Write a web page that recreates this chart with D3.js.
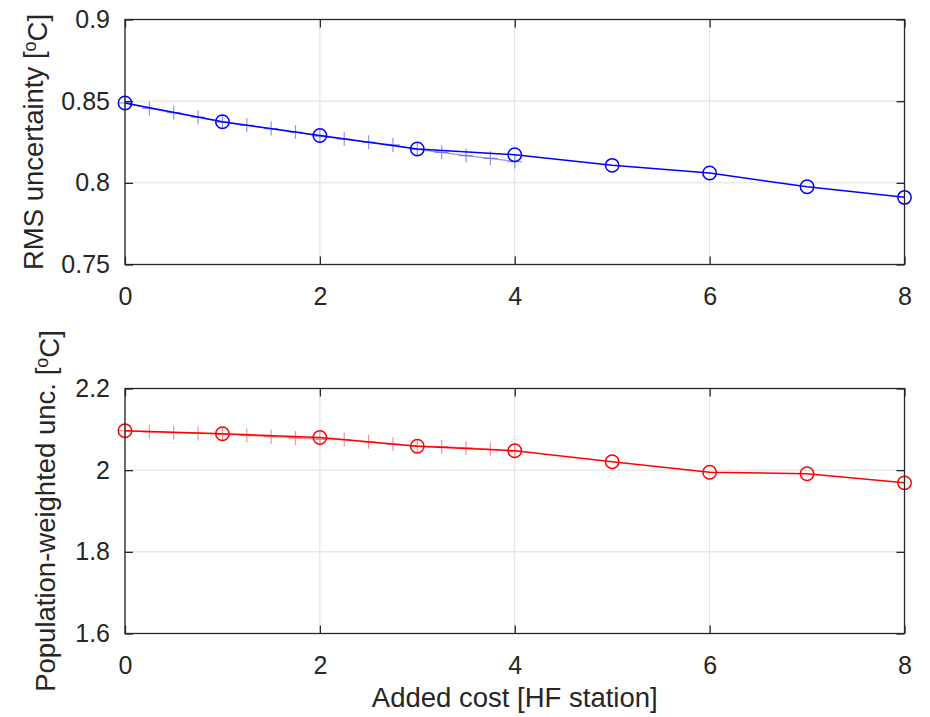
<!DOCTYPE html>
<html>
<head>
<meta charset="utf-8">
<script src="https://cdn.jsdelivr.net/npm/d3@7"></script>
<style>
  body { margin: 0; background: #fff; }
  svg { display: block; font-family: "Liberation Sans", Arial, sans-serif; }
</style>
</head>
<body>
<svg width="930" height="717"></svg>
<script>
// x values of the main (circle) series and of the fine (plus) series
const costs = [0, 1, 2, 3, 4, 5, 6, 7, 8]
const fineCosts = [0, 0.25, 0.5, 0.75, 1, 1.25, 1.5, 1.75, 2, 2.25, 2.5, 2.75, 3, 3.25, 3.5, 3.75, 4]

// top panel: RMS uncertainty
const rmsMain = [0.8489, 0.8374, 0.8290, 0.8207, 0.8172, 0.8107, 0.8060, 0.7976, 0.7911]
const rmsFine = [0.8489, 0.8455, 0.8430, 0.8402, 0.8372, 0.8352, 0.8332, 0.8311, 0.8286,
  0.8268, 0.8249, 0.8232, 0.8205, 0.8187, 0.8167, 0.8150, 0.8130]

// bottom panel: population-weighted uncertainty
const popMain = [2.0965, 2.0893, 2.0800, 2.0584, 2.0477, 2.0207, 1.9950, 1.9914, 1.9690]
const popFine = [2.0965, 2.0940, 2.0920, 2.0900, 2.0880, 2.0850, 2.0820, 2.0790, 2.0762,
  2.0750, 2.0695, 2.0640, 2.0590, 2.0575, 2.0545, 2.0510, 2.0460]

const xTicks = [0, 2, 4, 6, 8]
const rmsTicks = [0.75, 0.8, 0.85, 0.9]
const popTicks = [1.6, 1.8, 2, 2.2]

const svg = d3.select('svg')
const axisColor = '#262626'
const left = 125
const right = 904.5

const x = d3.scaleLinear().domain([0, 8]).range([left, right])

const drawPanel = ({ top, bottom, yDomain, yTicks, main, fine, color, light, label, labelX }) => {
  const y = d3.scaleLinear().domain(yDomain).range([bottom, top])
  const g = svg.append('g')

  // grid lines
  g.append('g')
    .selectAll('line.gx')
    .data(xTicks)
    .join('line')
    .attr('x1', d => x(d)).attr('x2', d => x(d))
    .attr('y1', top).attr('y2', bottom)
    .attr('stroke', '#dfdfdf').attr('stroke-width', 1)
  g.append('g')
    .selectAll('line.gy')
    .data(yTicks)
    .join('line')
    .attr('x1', left).attr('x2', right)
    .attr('y1', d => y(d)).attr('y2', d => y(d))
    .attr('stroke', '#dfdfdf').attr('stroke-width', 1)

  // fine series (light, plus markers)
  const line = d3.line().x(d => x(d[0])).y(d => y(d[1]))
  const fineData = fineCosts.map((c, i) => [c, fine[i]])
  g.append('path')
    .attr('d', line(fineData))
    .attr('fill', 'none')
    .attr('stroke', light)
    .attr('stroke-width', 1.2)
  g.append('g')
    .selectAll('path')
    .data(fineData)
    .join('path')
    .attr('d', d => `M${x(d[0]) - 7},${y(d[1])}h14M${x(d[0])},${y(d[1]) - 7}v14`)
    .attr('fill', 'none')
    .attr('stroke', light)
    .attr('stroke-width', 1.2)

  // main series (circles)
  const mainData = costs.map((c, i) => [c, main[i]])
  g.append('path')
    .attr('d', line(mainData))
    .attr('fill', 'none')
    .attr('stroke', color)
    .attr('stroke-width', 1.5)
  g.append('g')
    .selectAll('circle')
    .data(mainData)
    .join('circle')
    .attr('cx', d => x(d[0]))
    .attr('cy', d => y(d[1]))
    .attr('r', 6.7)
    .attr('fill', 'none')
    .attr('stroke', color)
    .attr('stroke-width', 1.5)

  // axes with inward ticks
  const bottomAxis = g.append('g')
    .attr('transform', `translate(0,${bottom})`)
    .call(d3.axisBottom(x).tickValues(xTicks).tickSize(-8).tickPadding(23).tickFormat(d => d))
  const topAxis = g.append('g')
    .attr('transform', `translate(0,${top})`)
    .call(d3.axisTop(x).tickValues(xTicks).tickSize(-8).tickFormat(''))
  const leftAxis = g.append('g')
    .attr('transform', `translate(${left},0)`)
    .call(d3.axisLeft(y).tickValues(yTicks).tickSize(-8).tickPadding(15).tickFormat(d => d))
  const rightAxis = g.append('g')
    .attr('transform', `translate(${right},0)`)
    .call(d3.axisRight(y).tickValues(yTicks).tickSize(-8).tickFormat(''))

  ;[bottomAxis, topAxis, leftAxis, rightAxis].forEach(a => {
    a.select('.domain').attr('d', null)
    a.selectAll('.tick line').attr('stroke', axisColor).attr('stroke-width', 1.3)
    a.selectAll('.tick text')
      .attr('fill', axisColor)
      .style('font-size', '25px')
      .style('font-family', '"Liberation Sans", Arial, sans-serif')
  })
  g.append('rect')
    .attr('x', left).attr('y', top)
    .attr('width', right - left).attr('height', bottom - top)
    .attr('fill', 'none')
    .attr('stroke', axisColor)
    .attr('stroke-width', 1.3)

  // y label with superscript o
  const t = g.append('text')
    .attr('transform', `translate(${labelX},${(top + bottom) / 2}) rotate(-90)`)
    .attr('text-anchor', 'middle')
    .attr('fill', axisColor)
    .style('font-size', '27.5px')
  t.append('tspan').text(label + ' [')
  t.append('tspan').attr('dy', '-0.4em').style('font-size', '18px').text('o')
  t.append('tspan').attr('dy', '0.4em').text('C]')
}

drawPanel({
  top: 19.5, bottom: 264.5,
  yDomain: [0.75, 0.9], yTicks: rmsTicks,
  main: rmsMain, fine: rmsFine,
  color: '#0000ff', light: 'rgba(100,100,240,0.7)',
  label: 'RMS uncertainty', labelX: 43,
})

drawPanel({
  top: 388.5, bottom: 633.5,
  yDomain: [1.6, 2.2], yTicks: popTicks,
  main: popMain, fine: popFine,
  color: '#ff0000', light: 'rgba(245,100,100,0.7)',
  label: 'Population-weighted unc.', labelX: 55,
})

svg.append('text')
  .attr('x', (left + right) / 2)
  .attr('y', 707)
  .attr('text-anchor', 'middle')
  .attr('fill', axisColor)
  .style('font-size', '27.5px')
  .text('Added cost [HF station]')
</script>
</body>
</html>
